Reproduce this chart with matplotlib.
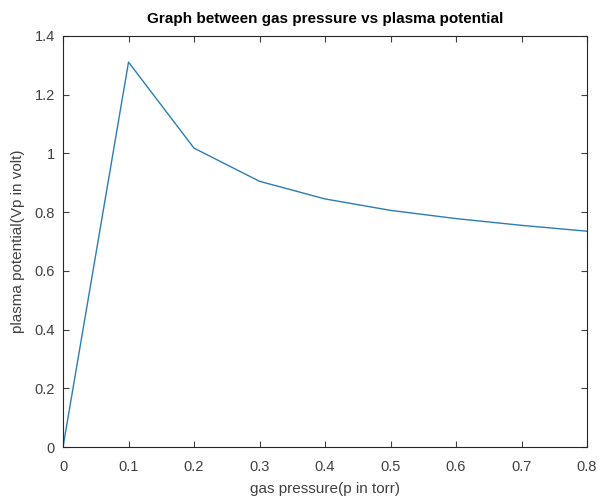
import numpy as np
import matplotlib.pyplot as plt

# gas pressure (torr) and plasma potential (volt)
pressure = [0.0, 0.1, 0.2, 0.3, 0.4, 0.5, 0.6, 0.7, 0.8]
potential = [0.0, 1.311, 1.018, 0.905, 0.845, 0.806, 0.778, 0.755, 0.735]

xticks = [0, 0.1, 0.2, 0.3, 0.4, 0.5, 0.6, 0.7, 0.8]
yticks = [0, 0.2, 0.4, 0.6, 0.8, 1.0, 1.2, 1.4]

plt.rcParams['font.family'] = ['Liberation Sans', 'DejaVu Sans']

fig = plt.figure(figsize=(6.03, 4.97), dpi=100)
ax = fig.add_axes([0.1045, 0.1006, 0.869, 0.827])

ax.plot(pressure, potential, color='#2a7db5', linewidth=1.0)

ax.set_xlim(0, 0.8)
ax.set_ylim(0, 1.4)
ax.set_xticks(xticks)
ax.set_xticklabels(['0' if t == 0 else str(t) for t in xticks])
ax.set_yticks(yticks)
ax.set_yticklabels(['0' if t == 0 else ('1' if t == 1.0 else str(t)) for t in yticks])

ax.tick_params(direction='in', length=4, width=0.8, top=True, right=True,
               labelsize=10.5, colors='#404040')
ax.tick_params(axis='x', pad=9)
ax.tick_params(axis='y', pad=6)
for s in ax.spines.values():
    s.set_color('#262626')
    s.set_linewidth(0.8)

ax.set_xlabel('gas pressure(p in torr)', fontsize=11, color='#404040', labelpad=6)
ax.set_ylabel('plasma potential(Vp in volt)', fontsize=11, color='#404040', labelpad=7)
ax.set_title('Graph between gas pressure vs plasma potential', fontsize=11,
             fontweight='bold', color='black', pad=9)

fig.savefig('out.png', dpi=100)
